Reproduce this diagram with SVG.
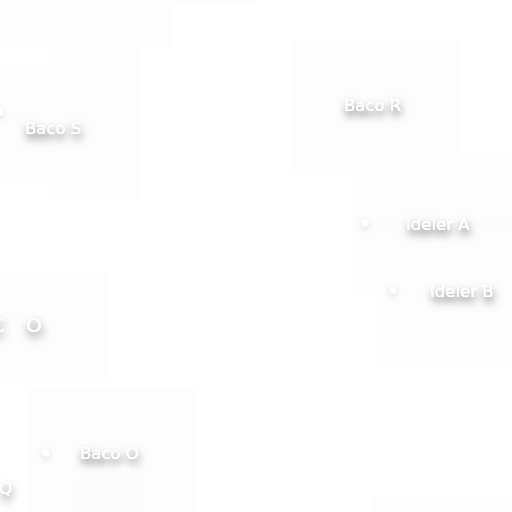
<svg xmlns="http://www.w3.org/2000/svg" width="512" height="512" viewBox="0 0 512 512">
<defs>
<filter id="sh" x="-50%" y="-150%" width="200%" height="400%">
<feDropShadow dx="1" dy="5" stdDeviation="4.5" flood-color="#000" flood-opacity="0.65"/>
</filter>
<filter id="shd" x="-300%" y="-300%" width="700%" height="700%">
<feDropShadow dx="0" dy="2" stdDeviation="3" flood-color="#000" flood-opacity="0.15"/>
</filter>
<style>
.bg{fill:#fdfdfd}
.bg2{fill:#fcfcfc}
.lbl{font-family:"DejaVu Sans","Liberation Sans",sans-serif;font-size:16.5px;fill:#ffffff;filter:url(#sh)}
.big{font-size:20px}
.dot{fill:#ffffff;filter:url(#shd)}
.mark{fill:#ffffff;filter:url(#sh)}
</style>
</defs>
<rect width="512" height="512" fill="#ffffff"/>
<g id="areas">
<rect class="bg" x="0" y="0" width="256" height="5"/>
<rect class="bg" x="0" y="0" width="173" height="47"/>
<rect class="bg" x="48" y="47" width="93" height="152"/>
<rect class="bg" x="0" y="65" width="48" height="117"/>
<rect class="bg" x="290" y="40" width="172" height="135"/>
<rect class="bg" x="353" y="158" width="159" height="137"/>
<rect class="bg" x="377" y="290" width="135" height="72"/>
<rect class="bg" x="0" y="272" width="110" height="110"/>
<rect class="bg" x="28" y="388" width="170" height="124"/>
<rect class="bg2" x="72" y="485" width="68" height="27"/>
<rect class="bg" x="370" y="496" width="142" height="16"/>
</g>
<g id="connectors">
<line x1="375" y1="224" x2="512" y2="224" stroke="#f9f9f9" stroke-width="1"/>
</g>
<g id="top-marks">
<circle class="mark" cx="22" cy="-9" r="8"/>
<circle class="mark" cx="60" cy="-9" r="8"/>
<circle class="mark" cx="98" cy="-9" r="8"/>
</g>
<g id="node-baco-s">
<circle class="dot" cx="-1" cy="112" r="4"/>
<text class="lbl" x="25" y="134">Baco S</text>
</g>
<g id="node-baco-r">
<text class="lbl" x="344" y="111">Baco R</text>
</g>
<g id="node-ideler-a">
<circle class="dot" cx="365" cy="223" r="3.5"/>
<text class="lbl" x="406" y="230">Ideler A</text>
</g>
<g id="node-ideler-b">
<circle class="dot" cx="393" cy="290" r="3.5"/>
<text class="lbl" x="430" y="297">Ideler B</text>
</g>
<g id="node-o">
<text class="lbl big" x="-9" y="332">C</text>
<text class="lbl big" x="26" y="332">O</text>
</g>
<g id="node-baco-o">
<circle class="dot" cx="46" cy="453" r="3.5"/>
<text class="lbl" x="80" y="459">Baco O</text>
</g>
<g id="node-q">
<text class="lbl" x="-1" y="494">Q</text>
</g>
</svg>
